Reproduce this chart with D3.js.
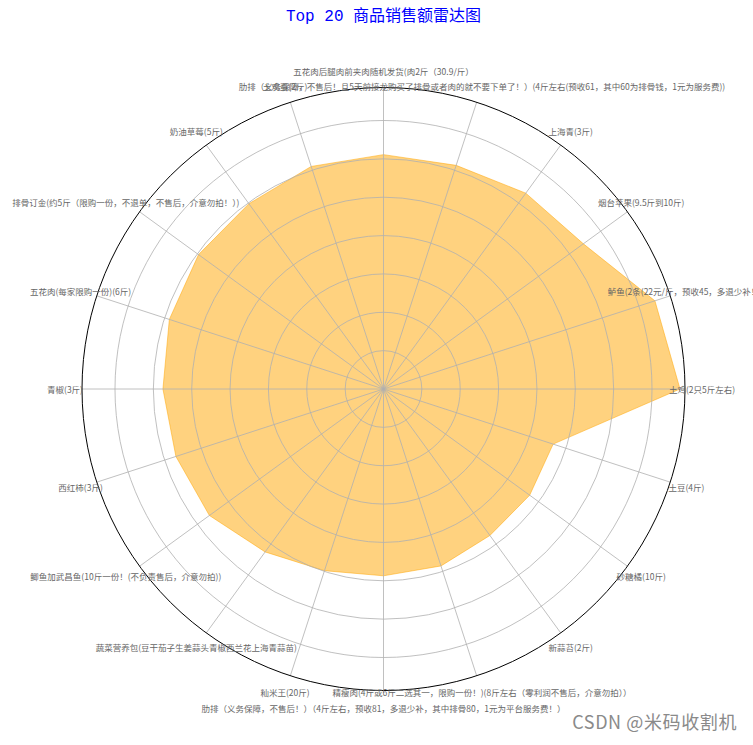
<!DOCTYPE html>
<html>
<head>
<meta charset="utf-8">
<script src="https://cdn.jsdelivr.net/npm/d3@7"></script>
<style>
    html, body { margin: 0; padding: 0; background: #fff; }
    #chart { width: 753px; height: 745px; }
    .axis-label { font-family: "Noto Sans CJK SC", sans-serif; font-size: 8.5px; fill: #666; }
</style>
</head>
<body>
<div id="chart"></div>
<script>
// Categories, counter-clockwise from 3 o'clock
const products = [
    '土鸡(2只5斤左右)',
    '鲈鱼(2条(22元/斤，预收45，多退少补！))',
    '烟台苹果(9.5斤到10斤)',
    '上海青(3斤)',
    '肋排（义务保障，不售后！且5天前接龙购买了排骨或者肉的就不要下单了！）(4斤左右(预收61，其中60为排骨钱，1元为服务费))',
    '五花肉后腿肉前夹肉随机发货(肉2斤（30.9/斤）',
    '土鸡蛋(2斤)',
    '奶油草莓(5斤)',
    '排骨订金(约5斤（限购一份，不退单，不售后，介意勿拍！）)',
    '五花肉(每家限购一份)(6斤)',
    '青椒(3斤)',
    '西红柿(3斤)',
    '鲫鱼加武昌鱼(10斤一份！(不负责售后，介意勿拍))',
    '蔬菜营养包(豆干茄子生姜蒜头青椒西兰花上海青蒜苗)',
    '籼米王(20斤)',
    '肋排（义务保障，不售后！）（4斤左右，预收81，多退少补，其中排骨80，1元为平台服务费！）',
    '精瘦肉(4斤或6斤二选其一，限购一份！)(8斤左右（零利润不售后，介意勿拍））',
    '新蒜苔(2斤)',
    '砂糖橘(10斤)',
    '土豆(4斤)'
];

// Sales amount per product
const sales = [7730, 7440, 6440, 6310, 6130, 6110, 6100, 5970, 5960, 5870,
               5750, 5690, 5610, 5250, 4980, 4870, 4850, 4720, 4710, 4650];

const radialTicks = [1000, 2000, 3000, 4000, 5000, 6000, 7000];
const radialMax = 7860;

const chartTitle = 'Top 20 商品销售额雷达图';

// Layout
const width = 753, height = 745;
const cx = 383.5, cy = 389;
const radius = 301.5;
const labelPad = 17;

const svg = d3.select('#chart')
    .append('svg')
    .attr('width', width)
    .attr('height', height);

const g = svg.append('g')
    .attr('transform', `translate(${cx},${cy})`);

const rScale = d3.scaleLinear()
    .domain([0, radialMax])
    .range([0, radius]);

// math angle (ccw from east) for each category
const step = 2 * Math.PI / products.length;
const theta = i => i * step;
// d3 radial angle: 0 at 12 o'clock, clockwise
const d3Angle = i => Math.PI / 2 - theta(i);

// Filled area
const radar = d3.lineRadial()
    .angle((d, i) => d3Angle(i))
    .radius(d => rScale(d))
    .curve(d3.curveLinearClosed);

g.append('path')
    .datum(sales)
    .attr('d', radar)
    .attr('fill', 'orange')
    .attr('fill-opacity', 0.5)
    .attr('stroke', 'orange')
    .attr('stroke-opacity', 0.5)
    .attr('stroke-width', 1);

// Grid circles
g.selectAll('.grid-circle')
    .data(radialTicks)
    .enter()
    .append('circle')
    .attr('class', 'grid-circle')
    .attr('r', d => rScale(d))
    .attr('fill', 'none')
    .attr('stroke', '#b0b0b0')
    .attr('stroke-width', 0.8);

// Spokes
g.selectAll('.spoke')
    .data(products)
    .enter()
    .append('line')
    .attr('class', 'spoke')
    .attr('x1', 0)
    .attr('y1', 0)
    .attr('x2', (d, i) => rScale(radialMax) * Math.cos(theta(i)))
    .attr('y2', (d, i) => -rScale(radialMax) * Math.sin(theta(i)))
    .attr('stroke', '#b0b0b0')
    .attr('stroke-width', 0.8);

// Outer frame
g.append('circle')
    .attr('r', rScale(radialMax))
    .attr('fill', 'none')
    .attr('stroke', '#000')
    .attr('stroke-width', 1);

// Category labels
g.selectAll('.axis-label')
    .data(products)
    .enter()
    .append('text')
    .attr('class', 'axis-label')
    .attr('x', (d, i) => (rScale(radialMax) + labelPad) * Math.cos(theta(i)))
    .attr('y', (d, i) => -(rScale(radialMax) + labelPad) * Math.sin(theta(i)))
    .attr('text-anchor', 'middle')
    .attr('dominant-baseline', 'central')
    .text(d => d);

// Title
svg.append('text')
    .attr('x', cx)
    .attr('y', 21)
    .attr('text-anchor', 'middle')
    .style('font-family', '"Liberation Mono", "Noto Sans CJK SC", monospace')
    .style('font-size', '16px')
    .style('fill', '#0000ff')
    .text(chartTitle);

// Watermark
svg.append('text')
    .attr('x', 737)
    .attr('y', 729)
    .attr('text-anchor', 'end')
    .style('font-family', '"Noto Sans CJK SC", sans-serif')
    .style('font-size', '18px')
    .style('letter-spacing', '0.6px')
    .style('fill', '#8a8a8a')
    .text('CSDN @米码收割机');
</script>
</body>
</html>
